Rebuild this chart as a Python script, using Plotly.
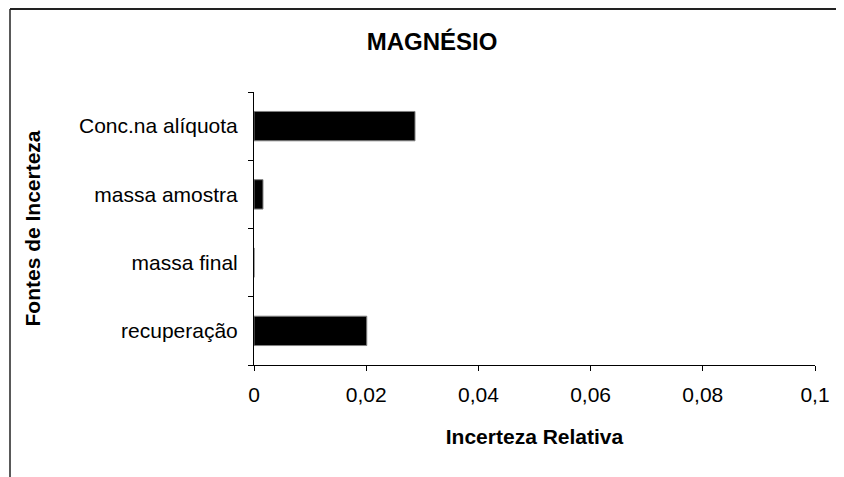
import plotly.graph_objects as go

categorias = ["recuperação", "massa final", "massa amostra", "Conc.na alíquota"]
incerteza = [0.0201, 0.0, 0.0016, 0.0287]
ticks_x = [0, 0.02, 0.04, 0.06, 0.08, 0.1]
ticks_txt = ["0", "0,02", "0,04", "0,06", "0,08", "0,1"]

# a página tem margem de 8px no body
OFF = 8
W, H = 844 - OFF, 477 - OFF
L, R, T, B = 254 - OFF, 29, 92 - OFF, 112
pw, ph = W - L - R, H - T - B


def px(x):
    return (x - OFF - L) / pw


def py(y):
    return (H - B - (y - OFF)) / ph


fig = go.Figure()
fig.add_trace(go.Bar(
    y=categorias, x=incerteza, orientation="h",
    marker=dict(color="black", line=dict(color="#808080", width=1)),
    width=0.43,
))

# moldura do gráfico (esquerda e topo)
fig.add_shape(type="line", xref="paper", yref="paper",
              x0=px(10), x1=px(10), y0=py(9), y1=py(480),
              line=dict(color="#222", width=1.5))
fig.add_shape(type="line", xref="paper", yref="paper",
              x0=px(10), x1=px(850), y0=py(9), y1=py(9),
              line=dict(color="#222", width=2))

fig.update_layout(
    width=W, height=H,
    margin=dict(l=L, r=R, t=T, b=B),
    paper_bgcolor="white", plot_bgcolor="white",
    font=dict(family="Liberation Sans, Arial", color="black"),
    showlegend=False,
    title=dict(text="<b>MAGNÉSIO</b>", x=px(432), xref="paper", xanchor="center",
               y=1 - (42 - OFF) / H, yanchor="middle", font=dict(size=24)),
    xaxis=dict(
        range=[0, 0.1], tickvals=ticks_x, ticktext=ticks_txt,
        showgrid=False, zeroline=False, showline=True, linecolor="black", linewidth=1,
        ticks="outside", ticklen=5, tickcolor="black",
        tickfont=dict(size=21), ticklabelstandoff=6,
        title=dict(text="<b>Incerteza Relativa</b>", font=dict(size=21), standoff=24),
    ),
    yaxis=dict(
        showgrid=False, showline=True, linecolor="black", linewidth=1,
        ticks="outside", ticklen=5, tickcolor="black", tickson="boundaries",
        tickfont=dict(size=21), ticklabelstandoff=11,
        title=dict(text="<b>Fontes de Incerteza</b>", font=dict(size=21), standoff=32),
    ),
)

fig.write_html("out.html")
